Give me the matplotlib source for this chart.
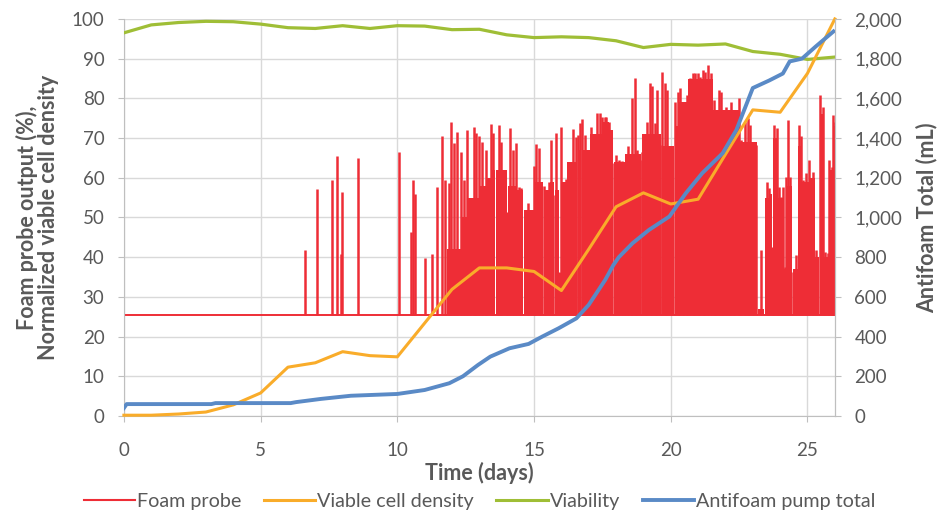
import matplotlib
matplotlib.use("Agg")
import matplotlib.pyplot as plt
from matplotlib.lines import Line2D
from matplotlib.ticker import FuncFormatter, MultipleLocator

plt.rcParams["font.family"] = ["Lato", "DejaVu Sans"]

# === Daten ===
sample_days = list(range(27))
vcd = [0.2, 0.2, 0.5, 1.0, 2.8, 5.8, 12.3, 13.4, 16.2, 15.2, 14.9, 23.4, 31.9, 37.3,
       37.3, 36.4, 31.6, 42.0, 52.7, 56.2, 53.4, 54.6, 65.9, 77.1, 76.5, 86.3, 100.0]
viability = [96.5, 98.5, 99.1, 99.4, 99.3, 98.7, 97.8, 97.6, 98.3, 97.6, 98.3, 98.2, 97.3,
             97.4, 96.0, 95.3, 95.5, 95.3, 94.5, 92.8, 93.6, 93.4, 93.7, 91.8, 91.1, 89.8, 90.4]

af_days = [0.0, 0.1, 3.2, 3.35, 6.1, 6.3, 7.2, 8.3, 10.0, 11.0,
           11.9, 12.4, 12.95, 13.4, 14.1, 14.8, 15.3, 15.9, 16.55, 17.0,
           17.6, 17.9, 18.1, 18.6, 19.2, 19.95, 20.55, 21.15, 21.9, 22.4,
           23.0, 23.6, 24.1, 24.35, 24.8, 25.3, 25.95]
af_total = [40, 60, 60, 65, 65, 70, 86, 102, 111, 131,
            165, 200, 257, 299, 341, 363, 400, 442, 492, 560,
            685, 760, 800, 870, 937, 1005, 1122, 1223, 1324, 1441,
            1652, 1690, 1725, 1786, 1800, 1861, 1937]

# Foam probe: Grundlinie, einzelne Peaks und dichte Bloecke
foam_base = 25.5
spike_days = [
    6.62, 7.08, 7.62, 7.78, 7.95, 7.99, 8.55, 10.06, 10.51, 10.57,
    10.63, 11.00, 11.28, 11.45, 11.65, 11.75, 11.88, 11.98, 12.07, 12.20,
    12.34, 12.44, 12.53, 12.67, 12.81, 12.89, 12.98, 13.10, 13.26, 13.41,
    13.50, 13.71, 13.80, 14.01, 14.11, 14.23, 14.35, 14.45, 14.54, 14.78,
    14.90, 14.99, 15.06, 15.18, 15.27, 15.36, 15.45, 15.55, 15.63, 15.69,
    15.82, 15.90, 16.00, 16.08, 16.18, 16.27, 16.42, 16.52, 16.61, 16.69,
    16.77, 16.85, 16.94, 17.03, 17.09, 17.30, 17.40, 17.50, 17.58, 17.64,
    17.74, 17.91, 18.00, 18.10, 18.23, 18.31, 18.44, 18.53, 18.59, 18.68,
    18.76, 18.86, 18.96, 19.04, 19.14, 19.23, 19.31, 19.41, 19.49, 19.59,
    19.69, 19.78, 19.86, 19.96, 20.05, 20.16, 20.26, 20.35, 20.45, 20.59,
    20.69, 20.81, 20.87, 21.00, 21.08, 21.18, 21.27, 21.38, 21.48, 21.57,
    21.66, 21.76, 21.84, 21.91, 22.03, 22.13, 22.21, 22.33, 22.49, 22.58,
    22.70, 22.82, 22.91, 23.00, 23.13, 23.31, 23.52, 23.61, 23.71, 23.76,
    23.88, 23.95, 24.03, 24.09, 24.16, 24.22, 24.30, 24.37, 24.46, 24.58,
    24.70, 24.76, 24.83, 24.95, 25.07, 25.19, 25.31, 25.46, 25.56, 25.64,
    25.74, 25.80, 25.88, 25.95, 26.00]
spike_peaks = [
    41.8, 57.1, 59.4, 65.5, 40.8, 56.5, 64.9, 66.4, 46.4, 59.4,
    55.8, 39.7, 40.8, 57.6, 70.5, 59.4, 58.8, 74.1, 68.7, 71.6,
    66.6, 59.4, 72.0, 54.8, 72.7, 71.4, 70.4, 68.9, 67.0, 73.6,
    71.2, 73.3, 69.1, 51.5, 72.5, 67.0, 68.8, 57.7, 57.3, 53.7,
    38.8, 62.9, 68.4, 67.4, 56.9, 57.9, 55.0, 59.0, 69.6, 55.6,
    71.2, 36.3, 72.8, 38.5, 59.8, 60.2, 72.2, 70.3, 70.7, 73.7,
    74.9, 70.7, 65.3, 58.6, 72.8, 76.4, 76.2, 75.4, 75.2, 75.4,
    74.1, 63.6, 65.7, 64.5, 64.1, 43.5, 68.0, 65.7, 80.0, 85.1,
    67.0, 64.5, 66.6, 68.7, 74.1, 83.8, 83.0, 73.7, 82.1, 68.3,
    86.7, 83.8, 82.1, 67.0, 67.0, 79.2, 81.7, 82.5, 67.0, 80.9,
    85.1, 86.3, 86.3, 86.3, 85.5, 87.2, 86.7, 88.4, 86.3, 79.6,
    68.7, 82.0, 81.7, 77.1, 77.9, 76.2, 79.2, 68.7, 80.0, 69.5,
    74.1, 75.0, 73.3, 68.7, 68.3, 41.8, 59.0, 57.3, 42.6, 73.3,
    72.5, 57.8, 55.2, 57.8, 37.6, 60.3, 74.6, 60.3, 36.3, 40.5,
    73.3, 70.4, 59.4, 61.1, 64.5, 61.5, 41.8, 80.9, 77.9, 41.4,
    41.0, 64.5, 62.8, 75.8, 74.1]

block_start = [11.82, 12.34, 12.57, 13.01, 13.28, 13.46, 13.62, 14.04, 14.37, 14.64,
               15.04, 15.35, 15.59, 15.77, 15.92, 16.02, 16.20, 16.62, 16.75, 17.06,
               17.52, 17.78, 17.92, 18.34, 18.94, 19.67, 20.15, 20.31, 20.62, 21.55,
               22.50, 23.20, 23.44, 23.62, 23.74, 23.93, 24.12, 24.20, 24.48, 24.67,
               24.78, 25.09, 25.28, 25.45, 25.62, 25.82, 25.93]
block_end = [12.32, 12.54, 12.98, 13.25, 13.43, 13.59, 14.01, 14.34, 14.61, 15.00,
             15.31, 15.55, 15.74, 15.90, 16.00, 16.17, 16.58, 16.72, 17.03, 17.49,
             17.74, 17.90, 18.32, 18.91, 19.63, 20.11, 20.28, 20.60, 21.53, 22.48,
             23.16, 23.40, 23.59, 23.72, 23.91, 24.10, 24.17, 24.44, 24.64, 24.75,
             25.05, 25.26, 25.41, 25.60, 25.78, 25.91, 26.00]
block_level = [42, 50, 55, 58, 60, 62, 62, 58, 57, 52,
               59, 57, 59, 57, 36, 59, 64, 67, 67, 71,
               74, 72, 64, 66, 71, 68, 73, 79, 85, 77,
               69, 27, 55, 56, 70, 55, 37, 58, 37, 68,
               59, 60, 40, 76, 40, 62, 73]

RED = "#ee2d36"
ORANGE = "#f9ac2a"
GREEN = "#9fbe36"
BLUE = "#5a8ac6"
GRAY = "#595959"

fig = plt.figure(figsize=(9.53, 5.12), dpi=100)
ax = fig.add_axes([0.130, 0.1875, 0.746, 0.7755])
ax2 = ax.twinx()

# Foam probe
ax.plot([0, 26], [foam_base, foam_base], color=RED, lw=1.4, zorder=2)
ax.bar(block_start, [l - foam_base for l in block_level],
       width=[e - s for s, e in zip(block_start, block_end)],
       bottom=foam_base, align="edge", color=RED, linewidth=0, zorder=2)
ax.vlines(spike_days, foam_base, spike_peaks, color=RED, lw=1.8, zorder=2)

ax.plot(sample_days, viability, color=GREEN, lw=2.3, zorder=3)
ax.plot(sample_days, vcd, color=ORANGE, lw=2.2, zorder=4, clip_on=False)
ax2.plot(af_days, af_total, color=BLUE, lw=2.8, zorder=5)

ax.set_xlim(0, 26)
ax.set_ylim(0, 100)
ax2.set_ylim(0, 2000)
ax.xaxis.set_major_locator(MultipleLocator(5))
ax.yaxis.set_major_locator(MultipleLocator(10))
ax2.yaxis.set_major_locator(MultipleLocator(200))
ax2.yaxis.set_major_formatter(FuncFormatter(lambda v, p: f"{int(v):,}"))

ax.grid(True, color="#d9d9d9", lw=1.0)
ax.set_axisbelow(True)
for a in (ax, ax2):
    for s in a.spines.values():
        s.set_color("#bfbfbf")
    a.spines["top"].set_visible(False)
ax2.spines["left"].set_visible(False)
ax2.spines["bottom"].set_visible(False)

ax.tick_params(axis="x", colors="#bfbfbf", labelcolor=GRAY, labelsize=13.5, length=4, pad=15)
ax.tick_params(axis="y", colors="#bfbfbf", labelcolor=GRAY, labelsize=13.5, length=4, pad=10)
ax2.tick_params(axis="y", colors="#bfbfbf", labelcolor=GRAY, labelsize=13.5, length=4, pad=10)

ax.set_xlabel("Time (days)", fontsize=15.5, fontweight="bold", color=GRAY, labelpad=2)
ax.set_ylabel("Foam probe output (%),\nNormalized viable cell density", fontsize=15.5,
              fontweight="bold", color=GRAY, labelpad=9, linespacing=1.0)
ax2.set_ylabel("Antifoam Total (mL)", fontsize=15.5, fontweight="bold", color=GRAY, labelpad=10)

handles = [Line2D([], [], color=RED, lw=1.5),
           Line2D([], [], color=ORANGE, lw=2.2),
           Line2D([], [], color=GREEN, lw=2.2),
           Line2D([], [], color=BLUE, lw=2.8)]
labels = ["Foam probe", "Viable cell density", "Viability", "Antifoam pump total"]
fig.legend(handles, labels, loc="lower center", bbox_to_anchor=(0.503, -0.03), ncol=4,
           frameon=False, fontsize=14.2, handlelength=2.6, handletextpad=0.1,
           columnspacing=1.15, labelcolor=GRAY)

fig.savefig("out.png", dpi=100)
